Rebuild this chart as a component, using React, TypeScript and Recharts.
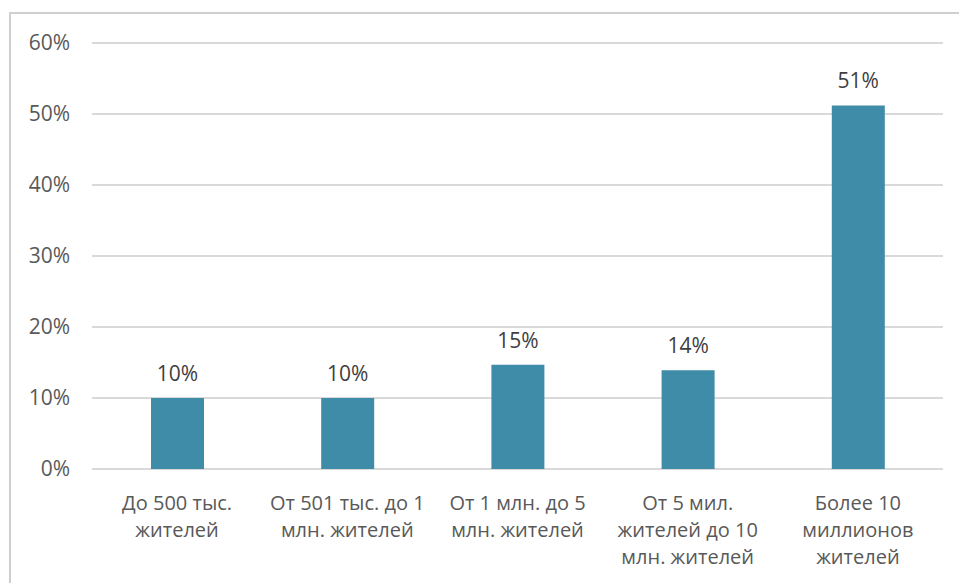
import React from 'react';
import { BarChart, Bar, XAxis, YAxis, CartesianGrid, LabelList } from 'recharts';

// Category labels, split into the lines shown under each bar
const categoryLines: string[][] = [
  ['До 500 тыс.', 'жителей'],
  ['От 501 тыс. до 1', 'млн. жителей'],
  ['От 1 млн. до 5', 'млн. жителей'],
  ['От 5 мил.', 'жителей до 10', 'млн. жителей'],
  ['Более 10', 'миллионов', 'жителей'],
];
const shares = [10, 10, 14.7, 13.9, 51.2];
const yTicks = [0, 10, 20, 30, 40, 50, 60];

const chartData = categoryLines.map((lines, i) => ({
  name: lines.join(' '),
  value: shares[i],
}));

const FONT = '"Open Sans", sans-serif';
const TEXT = '#595959';

const CategoryTick = (props: any) => {
  const { x, y, payload } = props;
  const lines = categoryLines[payload.index] || [payload.value];
  return (
    <text x={x} y={y} textAnchor="middle" fill={TEXT} fontSize={20} fontFamily={FONT}>
      {lines.map((l, i) => (
        <tspan key={i} x={x} dy={i === 0 ? 33 : 27}>
          {l}
        </tspan>
      ))}
    </text>
  );
};

export default function App() {
  return (
    <div style={{ position: 'absolute', left: 0, top: 0, width: 959, height: 583, background: '#fff', overflow: 'hidden' }}>
      <div
        style={{
          position: 'absolute',
          left: 9,
          top: 12,
          width: 960,
          height: 600,
          borderTop: '2px solid #cfcfcf',
          borderLeft: '2px solid #cfcfcf',
        }}
      />
      <div style={{ position: 'absolute', left: 0, top: 0 }}>
        <BarChart
          width={959}
          height={583}
          data={chartData}
          margin={{ top: 43, right: 16, left: 0, bottom: 0 }}
        >
          <CartesianGrid vertical={false} stroke="#d9d9d9" strokeWidth={2} />
          <XAxis
            dataKey="name"
            height={114}
            axisLine={false}
            tickLine={false}
            interval={0}
            tick={<CategoryTick />}
          />
          <YAxis
            width={92}
            domain={[0, 60]}
            ticks={yTicks}
            axisLine={false}
            tickLine={false}
            tickMargin={16}
            tickFormatter={(v: number) => `${v}%`}
            tick={{ fill: TEXT, fontSize: 21, fontFamily: FONT }}
          />
          <Bar dataKey="value" fill="#3f8ca8" barSize={53} isAnimationActive={false}>
            <LabelList
              dataKey="value"
              position="top"
              offset={17}
              formatter={(v: number) => `${Math.round(v)}%`}
              style={{ fill: '#404040', fontSize: 21, fontFamily: FONT }}
            />
          </Bar>
        </BarChart>
      </div>
    </div>
  );
}
